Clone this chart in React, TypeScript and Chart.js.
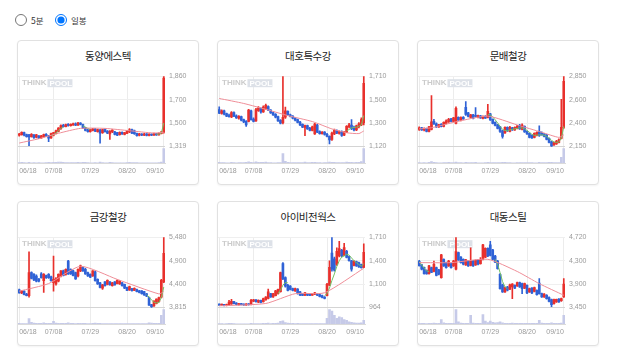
import React, { useEffect, useRef } from 'react';
import { Chart, registerables } from 'chart.js';

Chart.register(...registerables);

// ---------- shared categories ----------
const dates = [
  '06/18','06/19','06/20','06/21','06/24','06/25','06/26','06/27','06/28',
  '07/01','07/02','07/03','07/04','07/05','07/08','07/09','07/10','07/11','07/12',
  '07/15','07/16','07/17','07/18','07/19','07/22','07/23','07/24','07/25','07/26',
  '07/29','07/30','07/31','08/01','08/02','08/05','08/06','08/07','08/08','08/09',
  '08/12','08/13','08/14','08/16','08/19','08/20','08/21','08/22','08/23','08/26',
  '08/27','08/28','08/29','08/30','09/02','09/03','09/04','09/05','09/06','09/09','09/10',
];
const shownDates = ['06/18', '07/08', '07/29', '08/20', '09/10'];

// ---------- 동양에스텍 ----------
const dongyangTitle = '동양에스텍';
const dongyangYLabels = ['1,860', '1,700', '1,500', '1,319'];
const dongyangRange = [1319, 1860];
// [open, high, low, close]
const dongyangOHLC = [
  [1405,1420,1398,1415],[1410,1432,1405,1428],[1425,1430,1400,1405],[1410,1415,1390,1395],[1408,1412,1325,1392],
  [1395,1418,1390,1412],[1408,1410,1380,1386],[1390,1412,1385,1408],[1400,1402,1378,1382],[1385,1405,1380,1400],
  [1395,1415,1390,1410],[1412,1418,1395,1398],[1400,1405,1355,1382],[1385,1422,1380,1418],[1405,1428,1400,1425],
  [1420,1445,1415,1440],[1435,1465,1430,1460],[1455,1485,1450,1480],[1482,1490,1468,1472],[1472,1492,1470,1488],
  [1490,1495,1475,1480],[1478,1494,1475,1490],[1485,1498,1480,1492],[1494,1500,1478,1482],[1482,1505,1480,1498],
  [1498,1502,1485,1488],[1488,1492,1458,1462],[1462,1466,1438,1442],[1445,1452,1428,1432],[1432,1452,1428,1448],
  [1442,1458,1438,1455],[1455,1458,1432,1436],[1432,1452,1428,1448],[1445,1450,1345,1422],[1425,1452,1420,1448],
  [1450,1455,1428,1432],[1438,1442,1418,1422],[1415,1442,1372,1438],[1430,1448,1425,1445],[1432,1435,1408,1412],
  [1425,1428,1402,1406],[1410,1432,1405,1428],[1428,1432,1412,1416],[1412,1428,1408,1425],[1420,1442,1418,1438],
  [1430,1456,1425,1446],[1448,1452,1418,1422],[1440,1444,1412,1418],[1420,1422,1398,1402],[1405,1420,1400,1416],
  [1415,1418,1402,1406],[1405,1420,1402,1414],[1416,1418,1400,1404],[1404,1418,1400,1412],[1412,1416,1402,1406],
  [1406,1422,1404,1418],[1418,1420,1404,1408],[1408,1424,1405,1420],[1418,1435,1415,1430],[1428,1860,1422,1845],
];
const dongyangVolume = [
  3,4,3,2,5,2,3,2,3,2, 2,3,4,3,4,5,6,7,4,3, 3,3,3,3,4,3,4,5,3,2,
  2,3,2,6,3,2,2,4,3,2, 2,2,2,2,3,4,3,3,3,2, 2,2,2,2,2,2,2,3,6,100,
];
// [day index, value]
const dongyangMaLong = [[0,1345],[8,1378],[16,1420],[25,1458],[35,1458],[45,1440],[55,1422],[59,1428]];
const dongyangMaShort = [[13,1400],[14,1410],[15,1422],[16,1440],[17,1458],[18,1470],[26,1478],[27,1468],[28,1458],[29,1450],[56,1412],[57,1414],[58,1420],[59,1500]];

// ---------- 대호특수강 ----------
const daehoTitle = '대호특수강';
const daehoYLabels = ['1,710', '1,500', '1,300', '1,120'];
const daehoRange = [1120, 1710];
const daehoOHLC = [
  [1430,1452,1395,1400],[1398,1428,1392,1420],[1420,1425,1385,1390],[1395,1400,1370,1375],[1378,1392,1365,1370],
  [1368,1412,1362,1405],[1405,1410,1370,1375],[1378,1385,1355,1360],[1358,1380,1350,1372],[1370,1375,1335,1340],
  [1345,1350,1320,1325],[1330,1338,1287,1300],[1330,1432,1325,1425],[1420,1425,1340,1345],[1350,1360,1325,1330],
  [1335,1440,1330,1430],[1420,1455,1415,1445],[1440,1445,1400,1410],[1410,1460,1405,1450],[1440,1476,1430,1465],
  [1455,1460,1420,1425],[1425,1430,1398,1402],[1405,1410,1380,1385],[1390,1395,1360,1365],[1370,1375,1330,1335],
  [1340,1345,1308,1315],[1320,1710,1310,1365],[1365,1450,1355,1420],[1415,1420,1380,1385],[1385,1392,1368,1372],
  [1375,1380,1352,1358],[1360,1365,1335,1340],[1345,1350,1318,1322],[1325,1330,1295,1300],[1305,1310,1278,1282],
  [1280,1300,1210,1295],[1295,1300,1262,1268],[1272,1280,1250,1255],[1255,1290,1250,1285],[1225,1315,1220,1308],
  [1300,1305,1235,1240],[1245,1250,1222,1228],[1228,1245,1222,1240],[1240,1245,1215,1220],[1222,1230,1200,1205],
  [1205,1210,1140,1175],[1178,1240,1170,1232],[1225,1265,1218,1255],[1255,1260,1228,1232],[1230,1250,1222,1245],
  [1245,1250,1205,1212],[1215,1245,1210,1240],[1240,1295,1235,1288],[1285,1315,1275,1302],[1300,1345,1260,1270],
  [1275,1290,1250,1258],[1258,1300,1252,1292],[1285,1320,1275,1310],[1300,1360,1295,1345],[1320,1710,1300,1650],
];
const daehoVolume = [
  4,3,3,2,2,5,3,2,3,3, 3,4,8,4,3,8,5,4,5,6, 3,3,2,2,3,3,65,12,5,3,
  3,3,3,3,3,6,3,3,4,5, 3,3,2,3,3,6,5,5,3,3, 3,3,6,5,5,3,4,5,10,100,
];
const daehoMaLong = [[0,1523],[10,1481],[20,1426],[28,1379],[38,1329],[46,1267],[52,1235],[57,1228],[59,1250]];
const daehoMaShort = [[52,1250],[53,1262],[54,1275],[55,1280],[56,1282],[57,1290],[58,1300],[59,1380]];

// ---------- 문배철강 ----------
const moonbaeTitle = '문배철강';
const moonbaeYLabels = ['2,850', '2,600', '2,400', '2,150'];
const moonbaeRange = [2150, 2850];
const moonbaeOHLC = [
  [2320,2345,2310,2335],[2335,2340,2310,2315],[2315,2335,2305,2330],[2330,2332,2295,2300],[2300,2350,2295,2345],
  [2320,2657,2315,2395],[2400,2420,2370,2375],[2375,2385,2340,2345],[2345,2370,2340,2365],[2370,2378,2345,2350],
  [2350,2395,2345,2390],[2380,2415,2375,2405],[2395,2430,2390,2420],[2425,2430,2395,2400],[2400,2440,2395,2435],
  [2380,2545,2375,2530],[2440,2445,2410,2415],[2410,2445,2405,2438],[2440,2448,2420,2425],[2540,2596,2460,2470],
  [2485,2490,2445,2450],[2440,2470,2435,2465],[2465,2470,2425,2430],[2460,2538,2445,2450],[2440,2462,2435,2458],
  [2455,2460,2430,2435],[2430,2455,2425,2450],[2450,2458,2428,2432],[2440,2570,2435,2500],[2475,2480,2410,2415],
  [2420,2425,2375,2380],[2390,2395,2355,2360],[2365,2370,2325,2330],[2345,2350,2290,2300],[2305,2310,2233,2250],
  [2285,2345,2280,2340],[2340,2345,2300,2305],[2300,2350,2295,2340],[2335,2340,2310,2315],[2315,2345,2310,2340],
  [2330,2360,2325,2352],[2360,2370,2320,2325],[2320,2375,2315,2362],[2350,2355,2290,2295],[2300,2305,2270,2275],
  [2280,2285,2235,2240],[2260,2265,2230,2235],[2240,2285,2235,2280],[2260,2295,2255,2290],[2300,2355,2250,2260],
  [2290,2295,2262,2265],[2275,2280,2245,2250],[2265,2270,2215,2220],[2230,2235,2185,2190],[2195,2200,2150,2155],
  [2165,2190,2160,2185],[2175,2210,2170,2200],[2190,2225,2185,2215],[2230,2619,2225,2340],[2340,2850,2330,2800],
];
const moonbaeVolume = [
  3,2,3,2,4,10,4,3,2,2, 3,3,4,3,3,6,3,3,2,5, 3,3,3,4,2,2,2,3,5,3,
  3,3,3,3,5,4,3,3,2,2, 3,3,3,3,3,3,3,2,2,4, 3,3,3,4,4,3,3,3,40,100,
];
const moonbaeMaLong = [[0,2325],[5,2336],[15,2395],[28,2452],[40,2364],[50,2291],[57,2240],[59,2265]];
const moonbaeMaShort = [
  [28,2470],[29,2465],[30,2445],[31,2415],[32,2385],[33,2350],[34,2320],[35,2310],[36,2305],[37,2315],
  [38,2320],[39,2325],[40,2330],[41,2335],[42,2335],[43,2325],[44,2310],[45,2290],[46,2270],[47,2260],
  [48,2262],[49,2265],[50,2265],[51,2262],[52,2250],[53,2230],[54,2210],[55,2195],[56,2190],[57,2195],
  [58,2230],[59,2350],
];

// ---------- 금강철강 ----------
const geumgangTitle = '금강철강';
const geumgangYLabels = ['5,480', '4,900', '4,400', '3,815'];
const geumgangRange = [3815, 5480];
const geumgangOHLC = [
  [4230,4250,4150,4160],[4160,4215,4140,4200],[4200,4210,4110,4120],[4130,4150,4085,4095],[4095,5134,4060,4640],
  [4640,4660,4490,4500],[4600,4620,4450,4470],[4560,4590,4420,4440],[4490,4500,4420,4440],[4610,4640,4510,4520],
  [4450,4620,4170,4600],[4570,4580,4500,4520],[4600,4620,4500,4520],[4540,4560,4440,4450],[4400,5030,4200,4480],
  [4370,4520,4340,4500],[4440,4610,4420,4600],[4560,4690,4540,4680],[4680,4700,4560,4570],[4600,4730,4580,4720],
  [4914,4930,4600,4610],[4720,4730,4600,4610],[4680,4700,4560,4570],[4640,4650,4480,4490],[4560,4730,4540,4720],
  [4680,4820,4660,4800],[4760,4780,4670,4680],[4720,4740,4600,4610],[4640,4650,4550,4560],[4600,4610,4520,4530],
  [4560,4690,4550,4680],[4660,4680,4440,4450],[4480,4490,4360,4370],[4400,4410,4280,4290],[4270,4360,4240,4350],
  [4420,4430,4320,4330],[4360,4470,4350,4460],[4420,4430,4340,4350],[4330,4410,4320,4400],[4420,4430,4340,4350],
  [4380,4470,4370,4460],[4370,4450,4360,4440],[4400,4410,4320,4330],[4360,4370,4260,4270],[4290,4300,4210,4220],
  [4230,4320,4220,4310],[4260,4270,4200,4210],[4220,4280,4210,4270],[4240,4250,4180,4190],[4210,4220,4160,4170],
  [4210,4215,4130,4140],[4190,4195,4100,4110],[4140,4150,4070,4080],[4050,4060,3860,3870],[3880,3890,3815,3830],
  [3850,3980,3840,3960],[3910,4020,3900,4010],[3950,4060,3940,4050],[4060,4480,4040,4460],[4420,5480,4400,5100],
];
const geumgangVolume = [
  4,3,3,3,38,12,6,5,4,4, 8,4,4,4,18,6,5,5,4,4, 8,4,4,3,4,5,4,4,3,3,
  4,6,4,4,3,3,3,3,3,3, 3,3,3,3,3,3,3,3,3,3, 3,3,3,8,6,4,4,5,60,100,
];
const geumgangMaLong = [[0,4200],[12,4380],[25,4790],[40,4480],[57,4135],[59,4190]];
const geumgangMaShort = [[52,4120],[53,4060],[54,3990],[55,3940],[56,3920],[57,3930],[58,4050],[59,4300]];

// ---------- 아이비전웍스 ----------
const ivisionTitle = '아이비전웍스';
const ivisionYLabels = ['1,710', '1,400', '1,100', '964'];
const ivisionRange = [964, 1710];
const ivisionOHLC = [
  [998,1002,985,988],[988,1000,982,996],[996,998,980,984],[984,1000,980,995],[990,1040,985,1020],
  [1000,1050,995,1030],[1025,1030,1000,1005],[1010,1015,990,995],[992,1008,988,1004],[1004,1008,990,994],
  [998,1002,985,990],[990,1004,986,1000],[1002,1006,988,992],[995,1050,990,1040],[1030,1050,1025,1045],
  [1045,1048,1020,1025],[1020,1045,1015,1040],[1040,1042,1012,1018],[1025,1062,1020,1058],[1045,1080,1040,1075],
  [1060,1160,1055,1130],[1110,1115,1070,1075],[1075,1115,1070,1110],[1090,1145,1085,1140],[1110,1160,1105,1155],
  [1130,1340,1125,1335],[1430,1440,1260,1270],[1280,1290,1180,1190],[1200,1210,1140,1145],[1190,1195,1150,1155],
  [1165,1170,1140,1145],[1140,1170,1135,1165],[1160,1165,1105,1110],[1130,1135,1090,1095],[1110,1115,1090,1092],
  [1095,1125,1090,1120],[1110,1115,1090,1095],[1105,1110,1088,1092],[1095,1112,1092,1110],[1105,1125,1100,1120],
  [1110,1115,1090,1094],[1100,1105,1075,1080],[1090,1095,1065,1070],[1075,1080,1055,1060],[1090,1220,1085,1210],
  [1200,1460,1195,1390],[1540,1710,1350,1370],[1480,1500,1350,1360],[1420,1596,1410,1560],[1510,1665,1500,1590],
  [1570,1580,1500,1510],[1520,1645,1515,1600],[1560,1570,1490,1495],[1505,1510,1455,1460],[1460,1465,1350,1370],
  [1410,1460,1405,1455],[1450,1455,1400,1405],[1440,1445,1390,1395],[1420,1425,1380,1385],[1390,1640,1385,1550],
];
const ivisionVolume = [
  3,3,2,3,5,5,3,2,2,2, 2,2,2,4,3,3,3,3,4,4, 6,3,4,5,6,18,22,10,6,4,
  4,3,4,3,3,3,3,3,3,3, 3,3,3,3,40,100,90,60,40,50, 45,30,25,15,12,8,6,6,8,25,
];
const ivisionMaLong = [[0,981],[19,1006],[31,1110],[43,1120],[59,1380]];
const ivisionMaShort = [
  [24,1110],[25,1150],[26,1200],[27,1230],[28,1225],
  [43,1090],[44,1110],[45,1170],[46,1250],[47,1320],[48,1400],[49,1460],[50,1500],[51,1510],
  [52,1530],[53,1520],[54,1490],[55,1460],[56,1440],[57,1420],[58,1400],[59,1430],
];

// ---------- 대동스틸 ----------
const daedongTitle = '대동스틸';
const daedongYLabels = ['4,720', '4,300', '3,900', '3,450'];
const daedongRange = [3450, 4720];
const daedongOHLC = [
  [4285,4300,4195,4205],[4220,4230,4130,4140],[4175,4180,4050,4060],[4120,4130,4050,4055],[4060,4210,4050,4200],
  [4170,4180,4080,4085],[4100,4290,4090,4230],[4170,4180,4020,4030],[4130,4140,4040,4050],[3990,4410,3980,4400],
  [4320,4330,4190,4200],[4260,4270,4160,4170],[4200,4300,4190,4290],[4240,4250,4160,4170],[4200,4300,4190,4290],
  [4140,4720,4130,4460],[4440,4450,4300,4310],[4360,4370,4250,4260],[4320,4330,4220,4230],[4220,4320,4210,4310],
  [4290,4300,4190,4200],[4210,4530,4200,4290],[4290,4300,4190,4200],[4220,4310,4210,4300],[4310,4320,4220,4230],
  [4240,4350,4230,4320],[4320,4590,4310,4580],[4360,4530,4350,4520],[4520,4530,4370,4380],[4580,4644,4380,4390],
  [4490,4500,4310,4320],[4380,4390,4260,4270],[4290,4300,4140,4150],[4050,4060,3780,3790],[3860,3870,3720,3730],
  [3730,3820,3720,3810],[3820,3830,3750,3760],[3780,3870,3770,3860],[3820,3880,3610,3870],[3850,3860,3790,3800],
  [3840,3910,3830,3900],[3900,3910,3810,3820],[3880,3890,3700,3790],[3800,3890,3790,3880],[3850,3860,3700,3710],
  [3730,3800,3720,3790],[3800,3810,3700,3710],[3740,3820,3730,3810],[3760,3770,3670,3680],[3890,3970,3690,3700],
  [3700,3710,3630,3640],[3640,3700,3630,3690],[3670,3680,3600,3610],[3630,3640,3550,3560],[3590,3600,3462,3500],
  [3520,3600,3510,3590],[3550,3600,3540,3595],[3600,3610,3540,3550],[3570,3620,3560,3610],[3640,3970,3630,3870],
];
const daedongVolume = [
  5,4,4,3,5,4,6,4,4,30, 8,5,4,4,5,100,15,6,5,4, 5,60,6,5,4,5,65,20,10,20,
  12,8,10,15,8,5,4,5,6,4, 5,4,5,4,5,4,4,4,4,25, 6,4,4,5,8,4,4,4,6,60,
];
const daedongMaLong = [[0,4260],[13,4260],[28,4320],[40,4100],[49,3880],[59,3670]];
const daedongMaShort = [[0,4280],[1,4220],[2,4160],[3,4110],[4,4100],[31,4320],[32,4230],[33,4080],[34,3920],[35,3820],[36,3790]];

// ---------- styling ----------
const RED = '#e8302c';
const BLUE = '#2f62d6';
const PINK = '#ef8e98';
const GREEN = '#74c064';
const VOL = '#c6cae8';
const TICK_FONT = { family: '"Liberation Sans", Arial, sans-serif', size: 7 };

const watermark = {
  id: 'thinkpoolMark',
  beforeDatasetsDraw(chart: any) {
    const { ctx, chartArea } = chart;
    const x = chartArea.left + 4;
    const y = chartArea.top + 7;
    ctx.save();
    ctx.font = 'bold 8px "Liberation Sans", Arial, sans-serif';
    ctx.textBaseline = 'middle';
    ctx.fillStyle = '#cbcbcb';
    ctx.fillText('THINK', x, y);
    const w = ctx.measureText('THINK').width;
    ctx.fillStyle = '#dde1e8';
    ctx.fillRect(x + w + 1, y - 4, 25, 8);
    ctx.fillStyle = '#ffffff';
    ctx.fillText('POOL', x + w + 3, y + 0.5);
    ctx.restore();
  },
};

function toPoints(pairs: number[][]) {
  const out: { x: string; y: number | null }[] = [];
  pairs.forEach(([i, v], k) => {
    if (k > 0 && i - pairs[k - 1][0] > 1) out.push({ x: dates[i - 1], y: null });
    out.push({ x: dates[i], y: v });
  });
  return out;
}

type CardProps = {
  title: string;
  ohlc: number[][];
  volume: number[];
  maLong: number[][];
  maShort: number[][];
  yLabels: string[];
  range: number[];
  left: number;
  top: number;
};

function CandleCard(p: CardProps) {
  const ref = useRef<HTMLCanvasElement>(null);
  useEffect(() => {
    const [lo, hi] = p.range;
    const span = hi - lo;
    const colors = p.ohlc.map((d) => (d[3] >= d[0] ? RED : BLUE));
    const shownIdx = shownDates.map((d) => dates.indexOf(d));
    const maxVol = Math.max(...p.volume);
    const chart = new Chart(ref.current as HTMLCanvasElement, {
      type: 'bar',
      data: {
        labels: dates,
        datasets: [
          {
            type: 'line',
            data: toPoints(p.maLong) as any,
            borderColor: PINK,
            borderWidth: 1,
            pointRadius: 0,
            spanGaps: true,
            tension: 0.2,
            order: 0,
            yAxisID: 'y',
          } as any,
          {
            type: 'line',
            data: toPoints(p.maShort) as any,
            borderColor: GREEN,
            borderWidth: 1,
            pointRadius: 0,
            spanGaps: false,
            order: 0,
            yAxisID: 'y',
          } as any,
          {
            data: p.ohlc.map((d) => [d[0], d[3]]) as any,
            backgroundColor: colors,
            barThickness: 2,
            minBarLength: 1,
            grouped: false,
            borderWidth: 0,
            order: 1,
            yAxisID: 'y',
          },
          {
            data: p.ohlc.map((d) => [d[2], d[1]]) as any,
            backgroundColor: colors,
            barThickness: 1,
            grouped: false,
            borderWidth: 0,
            order: 2,
            yAxisID: 'y',
          },
          {
            data: p.volume,
            backgroundColor: VOL,
            barThickness: 2,
            grouped: false,
            borderWidth: 0,
            order: 3,
            yAxisID: 'v',
          },
        ],
      },
      options: {
        animation: false,
        responsive: false,
        maintainAspectRatio: false,
        layout: { padding: { left: 1, top: 6, right: 0, bottom: 0 } },
        plugins: { legend: { display: false }, tooltip: { enabled: false } },
        scales: {
          x: {
            offset: true,
            grid: {
              offset: false,
              drawTicks: false,
              color: (ctx: any) => (shownIdx.includes(ctx.index) ? '#ececec' : 'rgba(0,0,0,0)'),
            },
            border: { display: true, color: '#dadada' },
            ticks: {
              autoSkip: false,
              maxRotation: 0,
              minRotation: 0,
              align: 'inner',
              padding: 4,
              color: '#9a9a9a',
              font: TICK_FONT,
              callback: (_v: any, i: number) => (shownIdx.includes(i) ? dates[i] : ''),
            },
            afterFit: (s: any) => {
              s.paddingLeft = 0;
              s.paddingRight = 0;
              s.height = 20;
            },
          },
          y: {
            position: 'right',
            min: lo - (span * 17) / 72,
            max: hi,
            afterBuildTicks: (s: any) => {
              s.ticks = [0, 1, 2, 3].map((k) => ({ value: lo + (span * k) / 3 }));
            },
            grid: {
              drawTicks: false,
              color: (ctx: any) => (ctx.index === 0 ? '#d4d4d4' : '#efefef'),
            },
            border: { display: false },
            ticks: {
              padding: 4,
              color: '#9a9a9a',
              font: TICK_FONT,
              callback: (_v: any, i: number) => p.yLabels[3 - i],
            },
            afterFit: (s: any) => {
              s.width = 35;
            },
          },
          v: {
            display: false,
            position: 'left',
            min: 0,
            max: maxVol * 6,
          },
        },
      } as any,
      plugins: [watermark],
    });
    return () => chart.destroy();
  }, []);

  return (
    <div
      style={{
        position: 'absolute',
        left: p.left,
        top: p.top,
        width: 182,
        height: 145,
        boxSizing: 'border-box',
        border: '1px solid #e1e1e1',
        borderRadius: 4,
        background: '#fff',
        boxShadow: '0 1px 2px rgba(0,0,0,0.05)',
      }}
    >
      <div
        style={{
          position: 'absolute',
          left: 0,
          right: 0,
          top: 9,
          textAlign: 'center',
          fontFamily: '"Noto Sans CJK KR", sans-serif',
          fontSize: 10.5,
          lineHeight: '12px',
          letterSpacing: '-0.5px',
          color: '#222',
        }}
      >
        {p.title}
      </div>
      <canvas
        ref={ref}
        width={183}
        height={115}
        style={{ position: 'absolute', left: -1, top: 27, width: 183, height: 115 }}
      />
    </div>
  );
}

const cards: CardProps[] = [
  { title: dongyangTitle, ohlc: dongyangOHLC, volume: dongyangVolume, maLong: dongyangMaLong, maShort: dongyangMaShort, yLabels: dongyangYLabels, range: dongyangRange, left: 17, top: 40 },
  { title: daehoTitle, ohlc: daehoOHLC, volume: daehoVolume, maLong: daehoMaLong, maShort: daehoMaShort, yLabels: daehoYLabels, range: daehoRange, left: 217, top: 40 },
  { title: moonbaeTitle, ohlc: moonbaeOHLC, volume: moonbaeVolume, maLong: moonbaeMaLong, maShort: moonbaeMaShort, yLabels: moonbaeYLabels, range: moonbaeRange, left: 417, top: 40 },
  { title: geumgangTitle, ohlc: geumgangOHLC, volume: geumgangVolume, maLong: geumgangMaLong, maShort: geumgangMaShort, yLabels: geumgangYLabels, range: geumgangRange, left: 17, top: 201 },
  { title: ivisionTitle, ohlc: ivisionOHLC, volume: ivisionVolume, maLong: ivisionMaLong, maShort: ivisionMaShort, yLabels: ivisionYLabels, range: ivisionRange, left: 217, top: 201 },
  { title: daedongTitle, ohlc: daedongOHLC, volume: daedongVolume, maLong: daedongMaLong, maShort: daedongMaShort, yLabels: daedongYLabels, range: daedongRange, left: 417, top: 201 },
];

export default function App() {
  const labelStyle: React.CSSProperties = {
    position: 'absolute',
    top: 14,
    fontFamily: '"Noto Sans CJK KR", sans-serif',
    fontSize: 8.5,
    lineHeight: '13px',
    color: '#333',
  };
  return (
    <div style={{ position: 'absolute', left: 0, top: 0, width: 618, height: 356, background: '#fff' }}>
      <input type="radio" name="period" readOnly style={{ position: 'absolute', left: 15, top: 14, width: 12, height: 12, margin: 0 }} />
      <span style={{ ...labelStyle, left: 31 }}>5분</span>
      <input type="radio" name="period" defaultChecked readOnly style={{ position: 'absolute', left: 55, top: 14, width: 12, height: 12, margin: 0 }} />
      <span style={{ ...labelStyle, left: 71 }}>일봉</span>
      {cards.map((c) => (
        <CandleCard key={c.title} {...c} />
      ))}
    </div>
  );
}
